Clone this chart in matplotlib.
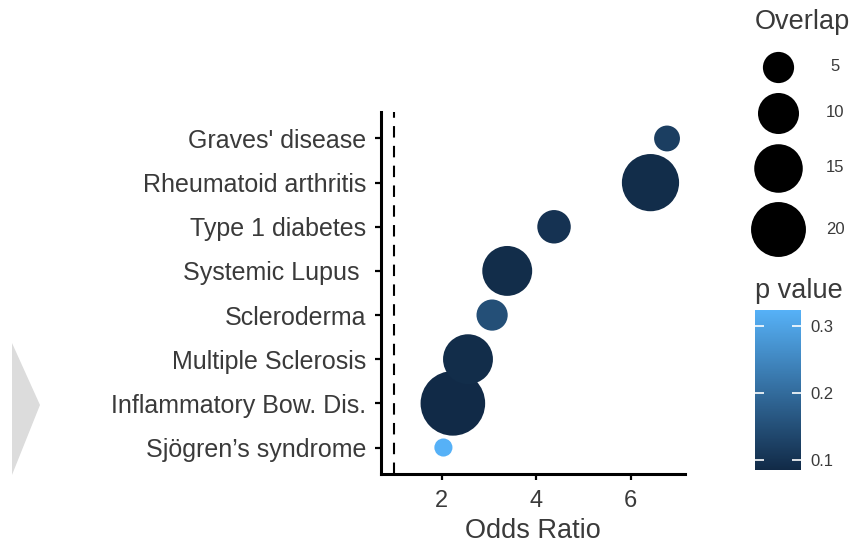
import numpy as np
import matplotlib
matplotlib.use("Agg")
import matplotlib.pyplot as plt
from matplotlib.colors import LinearSegmentedColormap, Normalize
from matplotlib.patches import Polygon

plt.rcParams['font.family'] = ['Liberation Sans', 'DejaVu Sans']

# data (bottom to top)
diseases = ["Sjögren’s syndrome", "Inflammatory Bow. Dis.", "Multiple Sclerosis",
            "Scleroderma", "Systemic Lupus ", "Type 1 diabetes",
            "Rheumatoid arthritis", "Graves' disease"]
odds_ratio = [2.04, 2.24, 2.56, 3.07, 3.39, 4.38, 6.42, 6.77]
overlap = [1, 29, 16, 5, 16, 6, 22, 3]
p_value = [0.325, 0.085, 0.09, 0.15, 0.09, 0.10, 0.09, 0.12]

overlap_breaks = [5, 10, 15, 20]
p_ticks = [0.1, 0.2, 0.3]
x_ticks = [2, 4, 6]

DPI = 100
W, H = 859, 543
TEXT = '#3a3a3a'


def diam_px(v):
    # ggplot-like area scale: diameter linear in sqrt(value)
    return 7.5 + 10.6 * np.sqrt(np.asarray(v, dtype=float))


def marker_size(v):
    return (diam_px(v) * 72 / DPI) ** 2


cmap = LinearSegmentedColormap.from_list('gg', ['#112a47', '#56B1F7'])
norm = Normalize(0.085, 0.324)

fig = plt.figure(figsize=(W / DPI, H / DPI), dpi=DPI)

# overlay in pixel coords for the decorations and size legend
over = fig.add_axes([0, 0, 1, 1])
over.set_xlim(0, W)
over.set_ylim(H, 0)
over.axis('off')
over.add_patch(Polygon([(12, 343), (40, 405), (12, 475)], closed=True,
                       facecolor='#dcdcdc', edgecolor='none'))

# main panel
ax = fig.add_axes([381 / W, (H - 474) / H, (685 - 381) / W, (474 - 112) / H])
ax.patch.set_alpha(0)
ypos = np.arange(1, len(diseases) + 1)
sc = ax.scatter(odds_ratio, ypos, s=marker_size(overlap), c=p_value,
                cmap=cmap, norm=norm, linewidths=0, zorder=3)
ax.axvline(1, color='black', lw=1.5, ls=(0, (5.5, 4)), zorder=2)

ax.set_xlim(0.72, 7.15)
ax.set_ylim(0.4, 8.6)
ax.set_xticks(x_ticks)
ax.set_yticks(ypos)
ax.set_yticklabels(diseases)
ax.tick_params(axis='y', labelsize=18, labelcolor=TEXT, length=4.5, width=1.6, pad=6)
ax.tick_params(axis='x', labelsize=17, labelcolor=TEXT, length=4.5, width=1.6, pad=7)
for side in ['top', 'right']:
    ax.spines[side].set_visible(False)
for side in ['left', 'bottom']:
    ax.spines[side].set_linewidth(2.2)
ax.set_xlabel('Odds Ratio', fontsize=19.5, color=TEXT, labelpad=4)

# size legend
over.text(755, 22, 'Overlap', fontsize=19.5, color=TEXT, ha='left', va='center')
y_key = 66.7
prev_d = None
for b in overlap_breaks:
    d = diam_px(b)
    if prev_d is not None:
        y_key += (prev_d + d) / 2 + 10
    over.scatter([778], [y_key], s=marker_size(b), color='black', linewidths=0)
    over.text(835, y_key, str(b), fontsize=12, color=TEXT, ha='center', va='center')
    prev_d = d

# colour legend
over.text(755, 291, 'p value', fontsize=19.5, color=TEXT, ha='left', va='center')
cax = fig.add_axes([755 / W, (H - 470) / H, 46 / W, 160 / H])
cb = fig.colorbar(sc, cax=cax, ticks=p_ticks)
cb.outline.set_visible(False)
cax.tick_params(length=0, pad=7, labelsize=12, labelcolor=TEXT)
for t in p_ticks:
    cax.hlines(t, 0, 0.2, color='white', lw=1.2)
    cax.hlines(t, 0.8, 1, color='white', lw=1.2)

fig.savefig('out.png', dpi=DPI)
